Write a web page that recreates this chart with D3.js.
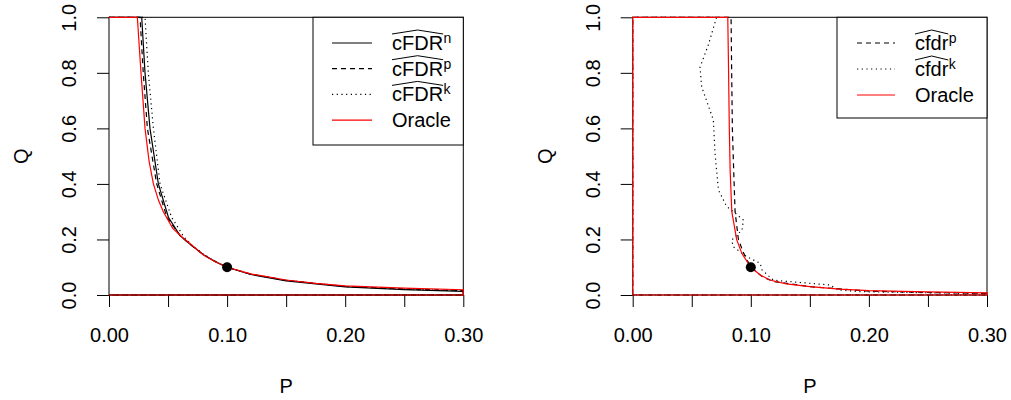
<!DOCTYPE html>
<html><head><meta charset="utf-8">
<script src="https://cdn.jsdelivr.net/npm/d3@7"></script>
<style>
body{margin:0;background:#fff;}
svg{display:block;font-family:"Liberation Sans",Arial,Helvetica,sans-serif;}
</style></head>
<body><svg id="c" width="1011" height="400"></svg>
<script>
// ---- data ----
const xTicks = [0, 0.05, 0.10, 0.15, 0.20, 0.25, 0.30];
const xTickLabels = ["0.00", "", "0.10", "", "0.20", "", "0.30"];
const yTicks = [0, 0.2, 0.4, 0.6, 0.8, 1.0];
const yTickLabels = ["0.0", "0.2", "0.4", "0.6", "0.8", "1.0"];
const targetPoint = [0.10, 0.10];

// left panel contours [P, Q]
const leftCFDRn = [[0,1],[0.0277,1],[0.0305,0.80],[0.0347,0.60],[0.0418,0.40],[0.0503,0.28],[0.0600,0.215],[0.0625,0.205],[0.070,0.178],[0.080,0.145],[0.090,0.120],[0.100,0.100],[0.120,0.074],[0.150,0.051],[0.200,0.029],[0.250,0.019],[0.300,0.013],[0.3,0],[0,0]];
const leftCFDRp = [[0,1],[0.0263,1],[0.0290,0.80],[0.0325,0.60],[0.0404,0.40],[0.0490,0.28],[0.0605,0.212],[0.070,0.178],[0.080,0.145],[0.090,0.121],[0.100,0.100],[0.120,0.075],[0.150,0.053],[0.200,0.031],[0.250,0.022],[0.300,0.016],[0.3,0],[0,0]];
const leftCFDRk = [[0,1],[0.0305,1],[0.0333,0.80],[0.0376,0.60],[0.0432,0.40],[0.0530,0.28],[0.0630,0.212],[0.070,0.180],[0.080,0.147],[0.090,0.121],[0.100,0.100],[0.120,0.075],[0.150,0.053],[0.200,0.031],[0.250,0.021],[0.300,0.015],[0.3,0],[0,0]];
const leftOracle = [[0,1],[0.0240,1],[0.0271,0.80],[0.0305,0.60],[0.0340,0.48],[0.0376,0.40],[0.0420,0.34],[0.0460,0.30],[0.0540,0.24],[0.0616,0.21],[0.070,0.180],[0.080,0.144],[0.090,0.120],[0.100,0.100],[0.120,0.076],[0.150,0.054],[0.175,0.042],[0.200,0.033],[0.250,0.025],[0.300,0.019],[0.3,0],[0,0]];

// right panel contours [P, Q]
const rightCfdrP = [[0,0],[0,1],[0.0833,1],[0.0838,0.80],[0.0844,0.60],[0.0855,0.45],[0.0867,0.30],[0.0895,0.20],[0.0940,0.15],[0.100,0.100],[0.110,0.065],[0.120,0.048],[0.150,0.030],[0.200,0.014],[0.250,0.009],[0.300,0.006],[0.3,0],[0,0]];
const rightCfdrK = [[0,0],[0,1],[0.0710,1],[0.0640,0.90],[0.0570,0.82],[0.0584,0.75],[0.0683,0.63],[0.0697,0.51],[0.0726,0.378],[0.0797,0.318],[0.0853,0.300],[0.0937,0.270],[0.0926,0.234],[0.0839,0.198],[0.0850,0.174],[0.0966,0.138],[0.1080,0.114],[0.1095,0.090],[0.1190,0.054],[0.1250,0.051],[0.1420,0.045],[0.1670,0.036],[0.1740,0.018],[0.1930,0.012],[0.250,0.008],[0.300,0.006],[0.3,0],[0,0]];
const rightOracle = [[0,0],[0,1],[0.0805,1],[0.0812,0.80],[0.0818,0.60],[0.0825,0.45],[0.0839,0.30],[0.0860,0.25],[0.0880,0.20],[0.0924,0.15],[0.100,0.100],[0.108,0.072],[0.116,0.054],[0.130,0.040],[0.150,0.030],[0.175,0.021],[0.200,0.0155],[0.250,0.011],[0.300,0.008],[0.3,0],[0,0]];

const leftLegend = [
  {base:"cFDR", sup:"n", dash:null, color:"#000"},
  {base:"cFDR", sup:"p", dash:"5,4", color:"#000"},
  {base:"cFDR", sup:"k", dash:"1.2,3.5", color:"#000"},
  {base:"Oracle", sup:null, dash:null, color:"#ff0000"}
];
const rightLegend = [
  {base:"cfdr", sup:"p", dash:"5,4", color:"#000"},
  {base:"cfdr", sup:"k", dash:"1.2,3.5", color:"#000"},
  {base:"Oracle", sup:null, dash:null, color:"#ff0000"}
];

// ---- drawing ----
const svg = d3.select("#c");
const FS = 20;

function panel(x0, series, legend, legBox) {
  const x = d3.scaleLinear().domain([0, 0.3]).range([x0, x0 + 354.3]);
  const y = d3.scaleLinear().domain([0, 1]).range([295, 17.3]);
  const g = svg.append("g");

  // x axis
  const xa = g.append("g").attr("transform", "translate(0,295)")
    .call(d3.axisBottom(x).tickValues(xTicks).tickSize(12).tickPadding(20)
      .tickFormat((d, i) => xTickLabels[i]));
  xa.select(".domain").remove();
  xa.selectAll("line").attr("stroke", "#000");
  xa.selectAll("text").attr("font-size", FS).attr("fill", "#000")
    .attr("font-family", "Liberation Sans, Arial, sans-serif").attr("y", 46.5).attr("dy", null);

  // y axis (labels rotated)
  const ya = g.append("g").attr("transform", `translate(${x0},0)`)
    .call(d3.axisLeft(y).tickValues(yTicks).tickSize(12).tickFormat((d, i) => yTickLabels[i]));
  ya.select(".domain").remove();
  ya.selectAll("line").attr("stroke", "#000");
  ya.selectAll("text").attr("font-size", FS).attr("fill", "#000")
    .attr("font-family", "Liberation Sans, Arial, sans-serif")
    .attr("x", null).attr("dy", null)
    .attr("text-anchor", "middle")
    .attr("transform", "translate(-33,0) rotate(-90)");

  // box
  g.append("rect").attr("x", x(0)).attr("y", y(1))
    .attr("width", x(0.3) - x(0)).attr("height", y(0) - y(1))
    .attr("fill", "none").attr("stroke", "#000").attr("stroke-width", 1);

  // axis titles
  g.append("text").attr("x", (x(0) + x(0.3)) / 2).attr("y", 393)
    .attr("text-anchor", "middle").attr("font-size", FS).text("P");
  g.append("text").attr("transform", `translate(${x0 - 81},${(y(0) + y(1)) / 2}) rotate(-90)`)
    .attr("text-anchor", "middle").attr("font-size", FS).text("Q");

  // curves
  const line = d3.line().x(d => x(d[0])).y(d => y(d[1]));
  series.forEach(s => {
    g.append("path").datum(s.data).attr("d", line)
      .attr("fill", "none").attr("stroke", s.color).attr("stroke-width", 1.2)
      .attr("stroke-dasharray", s.dash);
  });

  // point
  g.append("circle").attr("cx", x(targetPoint[0])).attr("cy", y(targetPoint[1]))
    .attr("r", 5).attr("fill", "#000");

  // legend
  const lg = g.append("g");
  lg.append("rect").attr("x", legBox.x).attr("y", legBox.y).attr("width", legBox.w).attr("height", legBox.h)
    .attr("fill", "#fff").attr("stroke", "#000").attr("stroke-width", 1);
  legend.forEach((d, i) => {
    const cy = legBox.row0 + i * legBox.dy;
    lg.append("line").attr("x1", legBox.lx0).attr("x2", legBox.lx1).attr("y1", cy).attr("y2", cy)
      .attr("stroke", d.color).attr("stroke-width", 1.2).attr("stroke-dasharray", d.dash);
    const t = lg.append("text").attr("x", legBox.tx).attr("y", cy + 7).attr("font-size", FS).text(d.base);
    if (d.sup) {
      const w = t.node().getComputedTextLength();
      lg.append("text").attr("x", legBox.tx + w + 0.5).attr("y", cy).attr("font-size", 14).text(d.sup);
      const hy = cy - 9;
      lg.append("path")
        .attr("d", `M${legBox.tx},${hy} L${legBox.tx + w / 2},${hy - 4} L${legBox.tx + w},${hy}`)
        .attr("fill", "none").attr("stroke", "#000").attr("stroke-width", 1);
    }
  });
}

panel(109, [
  {data: leftCFDRn, color: "#000", dash: null},
  {data: leftCFDRp, color: "#000", dash: "5,4"},
  {data: leftCFDRk, color: "#000", dash: "1.2,3.5"},
  {data: leftOracle, color: "#ff0000", dash: null}
], leftLegend, {x: 313, y: 17.3, w: 150.3, h: 127.7, row0: 43, dy: 25.7, lx0: 332, lx1: 372, tx: 392});

panel(632.7, [
  {data: rightCfdrP, color: "#000", dash: "5,4"},
  {data: rightCfdrK, color: "#000", dash: "1.2,3.5"},
  {data: rightOracle, color: "#ff0000", dash: null}
], rightLegend, {x: 837, y: 17.3, w: 150, h: 100.7, row0: 43, dy: 26, lx0: 857, lx1: 895, tx: 915});
</script>
</body></html>
